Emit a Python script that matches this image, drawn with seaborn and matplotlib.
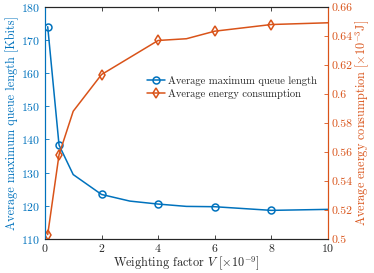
import matplotlib
matplotlib.use("Agg")
import matplotlib.pyplot as plt
import seaborn as sns
import pandas as pd

# data
v_queue = [0.1, 0.5, 1, 2, 3, 4, 5, 6, 8, 10]
queue_len = [174.0, 138.3, 129.4, 123.4, 121.4, 120.5, 119.8, 119.7, 118.6, 118.9]
queue_marks = [0, 1, 3, 5, 7, 8]

v_energy = [0.1, 0.5, 1, 2, 4, 5, 6, 8, 10]
energy = [0.503, 0.558, 0.588, 0.6133, 0.6368, 0.638, 0.6432, 0.6478, 0.649]
energy_marks = [0, 1, 3, 4, 6, 7]

BLUE = '#0072BD'
ORANGE = '#D95319'

sns.set_style('ticks')
plt.rcParams['font.family'] = ['cmr10', 'DejaVu Serif']
plt.rcParams['mathtext.fontset'] = 'cm'
plt.rcParams['axes.formatter.use_mathtext'] = True
plt.rcParams['xtick.direction'] = 'in'
plt.rcParams['ytick.direction'] = 'in'

fig = plt.figure(figsize=(3.74, 2.73), dpi=100)
ax = fig.add_axes([0.120, 0.125, 0.757, 0.850])
ax2 = ax.twinx()

df_q = pd.DataFrame({'V': v_queue, 'q': queue_len})
df_e = pd.DataFrame({'V': v_energy, 'e': energy})

sns.lineplot(data=df_q, x='V', y='q', ax=ax, color=BLUE, lw=1.1,
             marker='o', markevery=queue_marks, markersize=5,
             markerfacecolor='none', markeredgecolor=BLUE, markeredgewidth=1.1,
             label='Average maximum queue length', legend=False)
sns.lineplot(data=df_e, x='V', y='e', ax=ax2, color=ORANGE, lw=1.1,
             marker='d', markevery=energy_marks, markersize=5.5,
             markerfacecolor='none', markeredgecolor=ORANGE, markeredgewidth=1.1,
             label='Average energy consumption', legend=False)

ax.set_xlim(0, 10)
ax.set_ylim(110, 180)
ax2.set_ylim(0.5, 0.66)
ax.set_xticks([0, 2, 4, 6, 8, 10])
ax.set_yticks(range(110, 181, 10))
ax2.set_yticks([0.5, 0.52, 0.54, 0.56, 0.58, 0.6, 0.62, 0.64, 0.66])
ax2.set_yticklabels(['0.5', '0.52', '0.54', '0.56', '0.58', '0.6', '0.62', '0.64', '0.66'])

ax.set_xlabel(r'Weighting factor $V$ [$\times 10^{-9}$]', fontsize=8.8, labelpad=0)
ax.set_ylabel('Average maximum queue length [Kbits]', fontsize=8.8, color=BLUE, labelpad=1)
ax2.set_ylabel(r'Average energy consumption [$\times 10^{-3}$J]', fontsize=8.8, color=ORANGE, labelpad=1)

for a in (ax, ax2):
    for s in a.spines.values():
        s.set_linewidth(0.8)
        s.set_visible(True)
    a.spines['top'].set_color('#262626')
    a.spines['bottom'].set_color('#262626')
    a.spines['left'].set_color(BLUE)
    a.spines['right'].set_color(ORANGE)

ax.tick_params(axis='x', top=True, labelsize=8.5, colors='#262626', length=3, width=0.6, pad=2.5)
ax.tick_params(axis='y', labelsize=8.5, colors=BLUE, length=3, width=0.6)
ax2.tick_params(axis='y', labelsize=8.5, colors=ORANGE, length=3, width=0.6, pad=2.5)

h1, l1 = ax.get_legend_handles_labels()
h2, l2 = ax2.get_legend_handles_labels()
ax2.legend(h1 + h2, l1 + l2, loc='upper left', bbox_to_anchor=(0.345, 0.72),
           frameon=False, fontsize=7.6, handlelength=1.7, handletextpad=0.3,
           labelspacing=0.25, borderaxespad=0)

fig.savefig('out.png', dpi=100)
